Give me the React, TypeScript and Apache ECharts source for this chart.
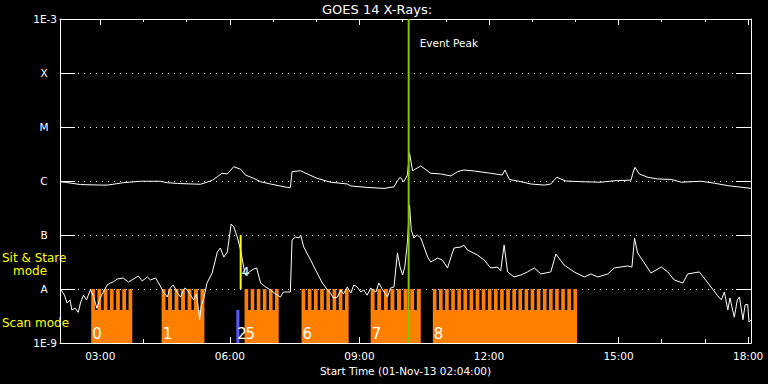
import React, { useEffect, useRef } from 'react';
import * as echarts from 'echarts';

// ---- data ----
const START_HOUR = 2 + 4 / 60; // 02:04
const END_HOUR = START_HOUR + 16;
const majorHours = [3, 6, 9, 12, 15, 18];
const minorHours = [3, 4, 5, 6, 7, 8, 9, 10, 11, 12, 13, 14, 15, 16, 17, 18];
const levelNames = ['1E-9', 'A', 'B', 'C', 'M', 'X', '1E-3'];

// long channel (1-8 A)
const longTimes = [2.08, 2.21, 2.54, 3.0, 3.16, 3.46, 3.53, 3.93, 4.39, 4.55, 4.79, 5.32, 5.47, 5.6, 5.71, 5.82, 5.94, 6.09, 6.25, 6.36, 6.55, 6.71, 6.94, 7.33, 7.4, 7.44, 7.64, 7.71, 8.02, 8.33, 8.72, 8.8, 9.18, 9.57, 9.8, 9.88, 9.94, 10.03, 10.11, 10.16, 10.23, 10.42, 10.65, 10.88, 11.12, 11.27, 11.42, 11.66, 12.04, 12.31, 12.37, 12.47, 12.74, 12.97, 13.28, 13.43, 13.57, 13.78, 14.13, 14.59, 14.9, 15.29, 15.33, 15.38, 15.48, 15.68, 15.91, 16.22, 16.45, 16.91, 17.22, 17.53, 17.76, 18.07];
const longFlux = [0.97e-6, 0.94e-6, 0.86e-6, 0.84e-6, 0.84e-6, 0.91e-6, 0.93e-6, 0.99e-6, 0.99e-6, 0.93e-6, 0.9e-6, 0.87e-6, 0.95e-6, 1.04e-6, 1.2e-6, 1.39e-6, 1.35e-6, 1.84e-6, 1.65e-6, 1.29e-6, 1.12e-6, 0.97e-6, 0.88e-6, 0.76e-6, 0.76e-6, 1.49e-6, 1.55e-6, 1.45e-6, 1.12e-6, 0.95e-6, 0.88e-6, 0.81e-6, 0.76e-6, 0.73e-6, 0.78e-6, 1.01e-6, 1.17e-6, 0.97e-6, 1.29e-6, 3.26e-6, 1.55e-6, 1.9e-6, 1.39e-6, 1.35e-6, 1.24e-6, 1.49e-6, 1.6e-6, 1.53e-6, 1.39e-6, 1.29e-6, 1.6e-6, 1.07e-6, 0.97e-6, 0.88e-6, 0.84e-6, 0.88e-6, 1.17e-6, 1.0e-6, 0.97e-6, 0.95e-6, 1.01e-6, 1.04e-6, 1.39e-6, 1.79e-6, 1.35e-6, 1.17e-6, 1.09e-6, 1.07e-6, 0.95e-6, 0.99e-6, 0.91e-6, 0.82e-6, 0.78e-6, 0.73e-6];

// short channel (0.5-4 A)
const shortTimes = [2.08, 2.17, 2.23, 2.3, 2.34, 2.42, 2.49, 2.54, 2.61, 2.68, 2.77, 2.84, 2.92, 3.0, 3.07, 3.16, 3.23, 3.3, 3.39, 3.53, 3.65, 3.77, 3.88, 3.97, 4.09, 4.16, 4.28, 4.39, 4.46, 4.55, 4.62, 4.69, 4.79, 4.86, 4.95, 5.02, 5.09, 5.16, 5.23, 5.3, 5.34, 5.39, 5.47, 5.59, 5.71, 5.78, 5.86, 5.94, 6.03, 6.09, 6.17, 6.25, 6.32, 6.36, 6.48, 6.55, 6.62, 6.65, 6.71, 6.83, 6.94, 7.06, 7.17, 7.24, 7.33, 7.4, 7.44, 7.52, 7.6, 7.64, 7.71, 7.87, 8.02, 8.14, 8.26, 8.33, 8.4, 8.49, 8.57, 8.63, 8.72, 8.8, 8.87, 8.95, 9.03, 9.1, 9.18, 9.26, 9.38, 9.45, 9.54, 9.65, 9.72, 9.8, 9.88, 9.94, 10.0, 10.05, 10.11, 10.16, 10.2, 10.26, 10.34, 10.42, 10.58, 10.65, 10.81, 10.92, 11.04, 11.12, 11.19, 11.35, 11.42, 11.5, 11.73, 11.89, 12.04, 12.2, 12.27, 12.35, 12.43, 12.58, 12.74, 12.89, 13.05, 13.2, 13.43, 13.55, 13.74, 13.97, 14.21, 14.36, 14.52, 14.75, 14.9, 15.21, 15.31, 15.37, 15.44, 15.52, 15.75, 15.99, 16.14, 16.29, 16.49, 16.6, 16.87, 17.07, 17.18, 17.28, 17.38, 17.45, 17.53, 17.58, 17.68, 17.75, 17.8, 17.88, 17.93, 17.99, 18.02, 18.07];
const shortFlux = [0.99e-8, 0.77e-8, 0.55e-8, 0.63e-8, 0.41e-8, 0.44e-8, 0.37e-8, 0.55e-8, 0.77e-8, 0.63e-8, 0.96e-8, 0.74e-8, 0.44e-8, 0.68e-8, 0.88e-8, 1.19e-8, 1.29e-8, 1.35e-8, 1.53e-8, 1.6e-8, 1.35e-8, 1.53e-8, 1.74e-8, 1.41e-8, 1.67e-8, 1.47e-8, 1.6e-8, 1.14e-8, 0.88e-8, 0.71e-8, 1.04e-8, 1.19e-8, 0.84e-8, 0.71e-8, 1.04e-8, 0.96e-8, 0.77e-8, 0.63e-8, 0.81e-8, 0.27e-8, 0.51e-8, 0.63e-8, 1.29e-8, 1.98e-8, 4.84e-8, 5.74e-8, 3.91e-8, 4.84e-8, 1.6e-7, 1.41e-7, 9.2e-8, 5.27e-8, 2.55e-8, 1.82e-8, 2.15e-8, 2.34e-8, 2.45e-8, 1.98e-8, 1.29e-8, 1.09e-8, 0.96e-8, 0.81e-8, 0.71e-8, 0.88e-8, 0.88e-8, 0.88e-8, 8.1e-8, 9.2e-8, 8.8e-8, 1.0e-7, 6.0e-8, 3.44e-8, 1.98e-8, 1.29e-8, 0.96e-8, 0.84e-8, 0.68e-8, 0.71e-8, 0.96e-8, 0.81e-8, 1.09e-8, 0.84e-8, 1.19e-8, 1.09e-8, 0.88e-8, 0.96e-8, 0.77e-8, 1.04e-8, 0.88e-8, 1.29e-8, 0.96e-8, 0.71e-8, 1.04e-8, 1.09e-8, 4.65e-8, 2.55e-8, 1.82e-8, 2.55e-8, 7.1e-8, 3.6e-7, 1.24e-7, 8.8e-8, 1.0e-7, 8.8e-8, 3.91e-8, 3.16e-8, 3.75e-8, 3.44e-8, 2.45e-8, 3.91e-8, 5.74e-8, 6.0e-8, 6.5e-8, 5.27e-8, 4.27e-8, 3.44e-8, 2.45e-8, 2.55e-8, 2.15e-8, 6.5e-8, 2.07e-8, 1.67e-8, 1.82e-8, 2.07e-8, 2.45e-8, 1.9e-8, 2.07e-8, 4.45e-8, 2.78e-8, 2.07e-8, 1.67e-8, 1.9e-8, 1.67e-8, 1.9e-8, 2.45e-8, 2.67e-8, 2.55e-8, 8.8e-8, 4.65e-8, 3.75e-8, 1.98e-8, 2.55e-8, 2.07e-8, 1.47e-8, 1.29e-8, 1.9e-8, 2.07e-8, 1.29e-8, 0.99e-8, 0.77e-8, 0.63e-8, 0.88e-8, 0.41e-8, 0.68e-8, 0.3e-8, 0.63e-8, 0.71e-8, 0.27e-8, 0.51e-8, 0.52e-8, 0.245e-8, 0.27e-8];

// scan-mode observations (orange)
const scanStarts = [2.79, 4.42, 6.34, 7.66, 9.26, 10.7];
const scanEnds = [3.74, 5.41, 7.13, 8.75, 10.42, 14.04];
const scanLabels = ['0', '1', '5', '6', '7', '8'];
const scanStripes = [7, 7, 6, 8, 8, 24];
// partial scan (blue)
const partialStarts = [6.15];
const partialEnds = [6.22];
const partialLabels = ['2'];
// sit & stare observation (yellow)
const stareTimes = [6.25];
const stareLabels = ['4'];
// event peak
const peakTimes = [10.14];

const FONT = 'DejaVu Sans';
const ORANGE = '#ff8000';
const GREEN = '#84c400';
const YELLOW = '#ffff00';
const BLUE = '#5a5aff';
const LANE_TOP = 1e-8;
const LANE_MID = 4.1e-9;
const LANE_BOT = 1e-9;

const hourLabel = (v: number) => (v < 10 ? '0' : '') + Math.round(v) + ':00';

export default function App() {
  const ref = useRef<HTMLDivElement>(null);
  useEffect(() => {
    const chart = echarts.init(ref.current!, undefined, { renderer: 'svg' });
    const white = '#ffffff';
    const baseX = {
      type: 'value' as const,
      min: START_HOUR,
      max: END_HOUR,
      splitLine: { show: false },
    };
    const option: any = {
      animation: false,
      backgroundColor: '#000000',
      grid: { left: 60, right: 17, top: 19, bottom: 41 },
      graphic: [
        { type: 'text', left: 322, top: 3, style: { text: 'GOES 14 X-Rays:', fill: white, font: `13px "${FONT}"` } },
        { type: 'text', left: 2, top: 252, style: { text: 'Sit & Stare', fill: YELLOW, font: `12px "${FONT}"` } },
        { type: 'text', left: 13, top: 265, style: { text: 'mode', fill: YELLOW, font: `12px "${FONT}"` } },
        { type: 'text', left: 2, top: 317, style: { text: 'Scan mode', fill: YELLOW, font: `12px "${FONT}"` } },
      ],
      xAxis: [
        {
          ...baseX,
          position: 'bottom',
          axisLine: { show: true, lineStyle: { color: white, width: 1 } },
          axisTick: { show: true, inside: true, length: 6, customValues: majorHours, lineStyle: { color: white } },
          axisLabel: { show: true, customValues: majorHours, formatter: hourLabel, color: white, fontSize: 10.5, fontFamily: FONT, margin: 7 },
          name: 'Start Time (01-Nov-13 02:04:00)',
          nameLocation: 'middle',
          nameGap: 19,
          nameTextStyle: { color: white, fontSize: 10.5, fontFamily: FONT },
        },
        {
          ...baseX,
          position: 'bottom',
          axisLine: { show: false },
          axisTick: { show: true, inside: true, length: 4, customValues: minorHours, lineStyle: { color: white } },
          axisLabel: { show: false },
        },
        {
          ...baseX,
          position: 'top',
          axisLine: { show: true, lineStyle: { color: white, width: 1 } },
          axisTick: { show: true, inside: true, length: 6, customValues: majorHours, lineStyle: { color: white } },
          axisLabel: { show: false },
        },
        {
          ...baseX,
          position: 'top',
          axisLine: { show: false },
          axisTick: { show: true, inside: true, length: 3, customValues: minorHours, lineStyle: { color: white } },
          axisLabel: { show: false },
        },
      ],
      yAxis: [
        {
          type: 'log',
          logBase: 10,
          min: 1e-9,
          max: 1e-3,
          splitNumber: 6,
          position: 'left',
          axisLine: { show: true, lineStyle: { color: white } },
          axisTick: { show: true, inside: true, length: 15, lineStyle: { color: white } },
          axisLabel: {
            color: '#ffffff',
            fontSize: 10.5,
            fontFamily: FONT,
            margin: 3,
            formatter: (v: number) => {
              const e = Math.round(Math.log10(v));
              const name = levelNames[e + 9];
              return name.length === 1 ? `{c|${name}}` : `{n|${name}}`;
            },
            rich: {
              c: { width: 26, align: 'center', color: '#ffffff', fontSize: 10.5, fontFamily: FONT },
              n: { color: '#ffffff', fontSize: 10.5, fontFamily: FONT },
            },
          },
          splitLine: { show: true, lineStyle: { color: white, type: [1, 5], width: 1 } },
        },
        {
          type: 'log',
          logBase: 10,
          min: 1e-9,
          max: 1e-3,
          splitNumber: 6,
          position: 'right',
          axisLine: { show: true, lineStyle: { color: white } },
          axisTick: { show: true, inside: true, length: 15, lineStyle: { color: white } },
          axisLabel: { show: false },
          splitLine: { show: false },
        },
      ],
      series: [
        {
          type: 'custom',
          name: 'scan',
          xAxisIndex: 0,
          yAxisIndex: 0,
          z: 1,
          data: scanStarts.map((s, i) => [s, scanEnds[i], LANE_TOP]),
          encode: { x: [0, 1], y: 2 },
          renderItem: (params: any, api: any) => {
            const i = params.dataIndex;
            const [x0, yTop] = api.coord([api.value(0), LANE_TOP]);
            const [x1, yBot] = api.coord([api.value(1), LANE_BOT]);
            const [, yMid] = api.coord([api.value(0), LANE_MID]);
            const n = scanStripes[i];
            const W = x1 - x0;
            const g = W / (2.5 * n - 1);
            const b = 1.5 * g;
            const children: any[] = [
              { type: 'rect', shape: { x: x0, y: yMid, width: W, height: yBot - yMid }, style: { fill: ORANGE } },
            ];
            for (let k = 0; k < n; k++) {
              children.push({ type: 'rect', shape: { x: x0 + k * (b + g), y: yTop, width: b, height: yMid - yTop + 0.5 }, style: { fill: ORANGE } });
            }
            children.push({ type: 'text', style: { text: scanLabels[i], x: x0 + 1, y: yBot - 9, fill: white, fontSize: 15, fontFamily: FONT, verticalAlign: 'middle', align: 'left' } });
            return { type: 'group', children };
          },
        },
        {
          type: 'custom',
          name: 'partial',
          xAxisIndex: 0,
          yAxisIndex: 0,
          z: 1,
          data: partialStarts.map((s, i) => [s, partialEnds[i], LANE_TOP]),
          encode: { x: [0, 1], y: 2 },
          renderItem: (params: any, api: any) => {
            const i = params.dataIndex;
            const [x0, yMid] = api.coord([api.value(0), LANE_MID]);
            const [x1, yBot] = api.coord([api.value(1), LANE_BOT]);
            return {
              type: 'group',
              children: [
                { type: 'rect', shape: { x: x0, y: yMid, width: x1 - x0, height: yBot - yMid }, style: { fill: BLUE } },
                { type: 'text', z2: 5, style: { text: partialLabels[i], x: x0 + 1, y: yBot - 9, fill: white, fontSize: 15, fontFamily: FONT, verticalAlign: 'middle', align: 'left' } },
              ],
            };
          },
        },
        {
          type: 'line',
          name: 'long',
          xAxisIndex: 0,
          yAxisIndex: 0,
          z: 3,
          showSymbol: false,
          symbol: 'none',
          lineStyle: { color: white, width: 1 },
          data: longTimes.map((t, i) => [t, longFlux[i]]),
        },
        {
          type: 'line',
          name: 'short',
          xAxisIndex: 0,
          yAxisIndex: 0,
          z: 3,
          showSymbol: false,
          symbol: 'none',
          lineStyle: { color: white, width: 1 },
          data: shortTimes.map((t, i) => [t, shortFlux[i]]),
        },
        {
          type: 'custom',
          name: 'stare',
          xAxisIndex: 0,
          yAxisIndex: 0,
          z: 4,
          data: stareTimes.map((t) => [t, 1e-7]),
          renderItem: (params: any, api: any) => {
            const i = params.dataIndex;
            const [x, yTop] = api.coord([api.value(0), 1e-7]);
            const [, yBot] = api.coord([api.value(0), 1e-8]);
            return {
              type: 'group',
              children: [
                { type: 'line', shape: { x1: x, y1: yTop, x2: x, y2: yBot }, style: { stroke: YELLOW, lineWidth: 2 } },
                { type: 'text', style: { text: stareLabels[i], x: x + 1, y: yBot - 17, fill: white, fontSize: 12, fontFamily: FONT, verticalAlign: 'middle', align: 'left' } },
              ],
            };
          },
        },
        {
          type: 'custom',
          name: 'peak',
          xAxisIndex: 0,
          yAxisIndex: 0,
          z: 5,
          data: peakTimes.map((t) => [t, 1e-3]),
          renderItem: (params: any, api: any) => {
            const [x, yTop] = api.coord([api.value(0), 1e-3]);
            const [, yBot] = api.coord([api.value(0), 1e-9]);
            return {
              type: 'group',
              children: [
                { type: 'line', shape: { x1: x, y1: yTop, x2: x, y2: yBot }, style: { stroke: GREEN, lineWidth: 2 } },
                { type: 'text', style: { text: 'Event Peak', x: x + 11, y: yTop + 24, fill: white, fontSize: 10.5, fontFamily: FONT, verticalAlign: 'middle', align: 'left' } },
              ],
            };
          },
        },
      ],
    };
    chart.setOption(option);
    return () => chart.dispose();
  }, []);
  return (
    <div
      ref={ref}
      style={{ position: 'fixed', left: 0, top: 0, width: 768, height: 384, background: '#000' }}
    />
  );
}
